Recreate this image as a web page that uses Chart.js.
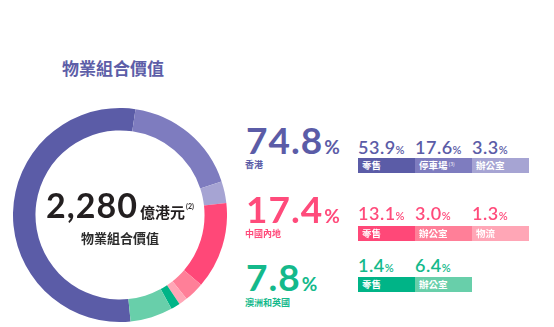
<!DOCTYPE html>
<html>
<head>
<meta charset="utf-8">
<script src="https://cdn.jsdelivr.net/npm/chart.js@4/dist/chart.umd.min.js"></script>
<style>
  body { margin: 0; width: 554px; height: 327px; background: #fff; position: relative; overflow: hidden;
         font-family: Lato, "Noto Sans CJK TC", sans-serif; }
  .abs { position: absolute; white-space: nowrap; line-height: 1; }
  .cjk { font-family: "Noto Sans CJK TC", sans-serif; font-weight: 700; letter-spacing: 0; }
  .num { font-weight: 700; }
  .chip { position: absolute; height: 15px; color: #fff; font-family: "Noto Sans CJK TC", sans-serif;
          font-weight: 700; font-size: 9.5px; line-height: 15px; padding-left: 4px; box-sizing: border-box;
          white-space: nowrap; }
  .chip .note { font-size: 5px; position: relative; top: -3px; font-weight: 400; margin-left: 1px; }
  #donutWrap { position: absolute; left: 13px; top: 108px; width: 214px; height: 214px; }
</style>
</head>
<body>
<div class="abs cjk" style="left:62px;top:59px;font-size:17px;color:#5d5ea8;">物業組合價值</div>
<div id="donutWrap"><canvas id="portfolioChart"></canvas></div>
<div id="centre"></div>
<div id="breakdown"></div>

<script>
// 物業組合價值 (億港元)
const portfolioValue = '2,280';
const regionNames = ['香港', '中國內地', '澳洲和英國'];
const regionTotals = [74.8, 17.4, 7.8];

// 各地區按用途分佈 (%)
const hkLabels = ['零售', '停車場', '辦公室'];
const hkValues = [53.9, 17.6, 3.3];
const cnLabels = ['零售', '辦公室', '物流'];
const cnValues = [13.1, 3.0, 1.3];
const auLabels = ['零售', '辦公室'];
const auValues = [1.4, 6.4];

const hkColors = ['#5b5ca7', '#7e7cbf', '#a6a4d3'];
const cnColors = ['#ff4878', '#ff7f98', '#ffa6b6'];
const auColors = ['#00b487', '#68cfaa'];
const textColors = ['#5b5ca7', '#ff4b7b', '#14b98b'];

// 環形圖
new Chart(document.getElementById('portfolioChart'), {
  type: 'doughnut',
  data: {
    labels: [...hkLabels, ...cnLabels, ...auLabels],
    datasets: [{
      data: [...hkValues, ...cnValues, ...auValues],
      backgroundColor: [...hkColors, ...cnColors, ...auColors],
      borderWidth: 0
    }]
  },
  options: {
    responsive: true,
    maintainAspectRatio: false,
    animation: false,
    cutout: '79%',
    rotation: 174.3,
    layout: { padding: 0 },
    plugins: { legend: { display: false }, tooltip: { enabled: false } }
  }
});

// 中間的總值
document.getElementById('centre').innerHTML =
  `<div class="abs num" style="left:0;width:240px;text-align:center;top:188px;font-size:34px;letter-spacing:1px;color:#231f20;">` +
  `${portfolioValue}<span class="cjk" style="font-size:15px;margin-left:2px;">億港元</span>` +
  `<span style="font-size:7px;position:relative;top:-9px;font-weight:700;letter-spacing:0;margin-left:1px;">(2)</span></div>` +
  `<div class="abs cjk" style="left:0;width:240px;text-align:center;top:231px;font-size:13px;color:#2b2b2b;">物業組合價值</div>`;

// 右邊各地區明細
const rows = [
  { labels: hkLabels, values: hkValues, colors: hkColors, bigTop: 121, nameTop: 160, subTop: 138, barTop: 158 },
  { labels: cnLabels, values: cnValues, colors: cnColors, bigTop: 190, nameTop: 229, subTop: 204, barTop: 226 },
  { labels: auLabels, values: auValues, colors: auColors, bigTop: 258, nameTop: 298, subTop: 256, barTop: 277 }
];
const chipX = 358, chipW = 57;
let html = '';
rows.forEach((r, i) => {
  const c = textColors[i];
  html += `<div class="abs num" style="left:246px;top:${r.bigTop}px;font-size:37px;letter-spacing:1px;color:${c};">` +
          `${regionTotals[i].toFixed(1)}<span style="font-size:19px;letter-spacing:0;margin-left:1px;">%</span></div>`;
  html += `<div class="abs cjk" style="left:245px;top:${r.nameTop}px;font-size:9px;color:${c};">${regionNames[i]}</div>`;
  r.values.forEach((v, j) => {
    const x = chipX + j * chipW;
    html += `<div class="abs num" style="left:${x}px;top:${r.subTop}px;font-size:18px;letter-spacing:0.5px;font-weight:600;color:${c};">` +
            `${v.toFixed(1)}<span style="font-size:11px;letter-spacing:0;">%</span></div>`;
    const note = (i === 0 && j === 1) ? '<span class="note">(3)</span>' : '';
    html += `<div class="chip" style="left:${x}px;top:${r.barTop}px;width:${chipW}px;background:${r.colors[j]};">${r.labels[j]}${note}</div>`;
  });
});
document.getElementById('breakdown').innerHTML = html;
</script>
</body>
</html>
